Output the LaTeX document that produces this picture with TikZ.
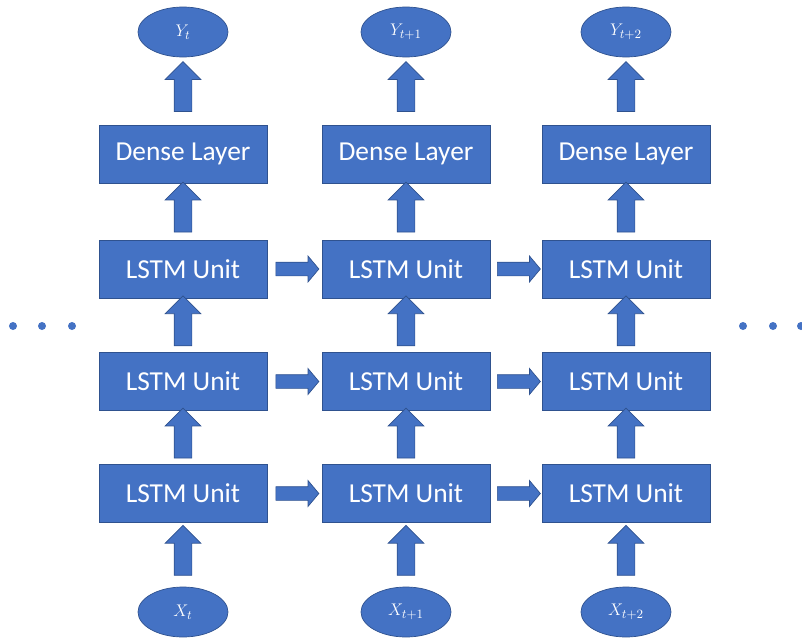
\documentclass[tikz,border=0pt]{standalone}
\usepackage{fontspec}
\setmainfont{Carlito}
\usetikzlibrary{shapes.geometric, shapes.arrows}

\definecolor{unitblue}{HTML}{4472C4}
\definecolor{edgeblue}{HTML}{2F528F}

\begin{document}
\begin{tikzpicture}[
	unit/.style = {rectangle, fill = unitblue, draw = edgeblue, line width = 0.5pt, minimum width = 4.2cm, minimum height = 1.45cm, text = white, font = \fontsize{19.5}{23}\selectfont},
	io/.style = {ellipse, fill = unitblue, draw = edgeblue, line width = 0.5pt, minimum width = 2.25cm, minimum height = 1.25cm, inner sep = 0pt, text = white, font = \fontsize{13}{15}\selectfont},
	uparrow/.style = {single arrow, fill = unitblue, draw = edgeblue, line width = 0.5pt, inner sep = 0.2125cm, shape border rotate = 90, minimum height = 1.25cm, single arrow head extend = 0.225cm},
	sidearrow/.style = {single arrow, fill = unitblue, draw = edgeblue, line width = 0.5pt, inner sep = 0.1625cm, minimum height = 1.075cm, single arrow head extend = 0.15cm, single arrow tip angle = 100}
]

	\useasboundingbox (0, 0) rectangle (20.05, -16.075);

	% Nodes of each time step
	
	\foreach \x/\s/\c in {4.575//a, 10.15/+1/b, 15.65/+2/c} {
		\node [io] (x\c) at (\x, -15.3) {$X_{t\s}$};
		\node [unit] (l1\c) at (\x, -12.3375) {LSTM Unit};
		\node [unit] (l2\c) at (\x, -9.5375) {LSTM Unit};
		\node [unit] (l3\c) at (\x, -6.725) {LSTM Unit};
		\node [unit] (d\c) at (\x, -3.85) {Dense Layer};
		\node [io] (y\c) at (\x, -0.8) {$Y_{t\s}$};
	}
	
	% Arrows up each column
	
	\foreach \c in {a, b, c} {
		\path (x\c.north) -- node [uparrow] {} (l1\c.south);
		\path (l1\c.north) -- node [uparrow] {} (l2\c.south);
		\path (l2\c.north) -- node [uparrow] {} (l3\c.south);
		\path (l3\c.north) -- node [uparrow] {} (d\c.south);
		\path (d\c.north) -- node [uparrow] {} (y\c.south);
	}
	
	% Arrows from one time step to the next
	
	\foreach \i/\j in {a/b, b/c}
		\foreach \r in {1, 2, 3}
			\path (l\r\i.east) -- node [sidearrow] {} (l\r\j.west);
	
	% Dots on both sides
	
	\foreach \x in {0.325, 1.05, 1.8, 18.575, 19.325, 20.025}
		\fill [unitblue] (\x, -8.15) circle (0.1);

\end{tikzpicture}
\end{document}
